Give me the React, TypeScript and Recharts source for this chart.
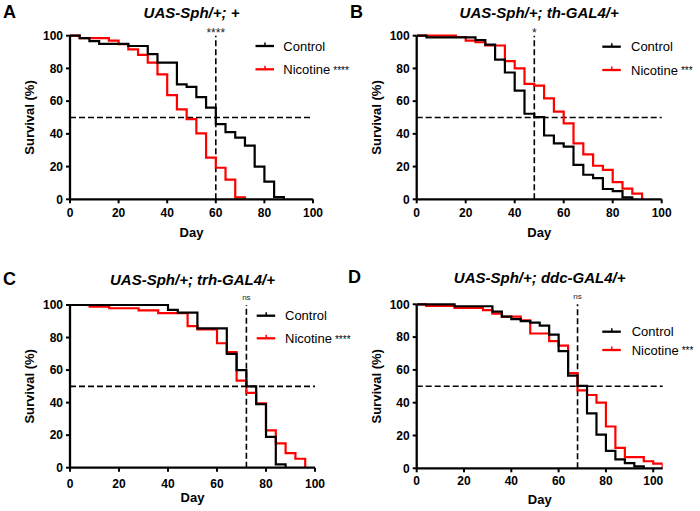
import React from 'react';
import { LineChart, Line, XAxis, YAxis, ReferenceLine } from 'recharts';

const FONT = '"Liberation Sans", Arial, Helvetica, sans-serif';

const dayTicks = [0, 20, 40, 60, 80, 100];
const survivalTicks = [0, 20, 40, 60, 80, 100];
const seriesNames = ['Control', 'Nicotine'];

// Panel A: UAS-Sph/+; +
const aControlDays = [0, 4, 8, 12, 24, 32, 36, 44, 48, 52, 56, 60, 64, 68, 72, 76, 80, 84, 88];
const aControlSurv = [100, 98.5, 96.7, 95, 93.7, 88.7, 83.6, 70.2, 68.7, 62.4, 56, 46, 41, 37.7, 32.8, 20, 10.8, 1.4, 0];
const aNicotineDays = [0, 4, 16, 20, 24, 28, 32, 36, 40, 44, 48, 52, 56, 60, 64, 68, 72];
const aNicotineSurv = [100, 98.5, 97, 94.8, 91.6, 88.3, 83.6, 76.3, 63.7, 55, 49, 40.3, 25.5, 19.3, 12, 1.2, 0];

// Panel B: UAS-Sph/+; th-GAL4/+
const bControlDays = [0, 4, 24, 28, 32, 36, 40, 44, 48, 52, 56, 60, 64, 68, 72, 76, 80, 84, 88];
const bControlSurv = [100, 99, 97.3, 94.6, 85.4, 77.5, 66.4, 52.3, 50.2, 39, 34.2, 32.2, 21, 15, 13, 6.3, 5, 1.2, 0];
const bNicotineDays = [0, 16, 20, 24, 28, 36, 40, 44, 48, 52, 56, 60, 64, 68, 72, 76, 80, 84, 88, 92];
const bNicotineSurv = [100, 99.2, 97, 96, 94, 84.5, 80, 70.6, 69.5, 61.7, 53.6, 46.4, 34.2, 27.5, 20.5, 18, 10.5, 6.5, 3.5, 0];

// Panel C: UAS-Sph/+; trh-GAL4/+
const cControlDays = [0, 40, 44, 52, 64, 68, 72, 76, 80, 84, 88];
const cControlSurv = [100, 97, 95.3, 85.6, 70, 60, 50, 39, 19, 2, 0];
const cNicotineDays = [0, 8, 16, 28, 36, 48, 52, 60, 64, 68, 72, 76, 80, 84, 88, 92, 96];
const cNicotineSurv = [100, 99, 98, 96.7, 95, 87, 85, 76.5, 71, 53.5, 46, 39.5, 23, 15, 9, 5.5, 0];

// Panel D: UAS-Sph/+; ddc-GAL4/+
const dControlDays = [0, 16, 32, 36, 40, 44, 48, 52, 56, 60, 64, 68, 72, 76, 80, 84, 88, 92, 96];
const dControlSurv = [100, 98.8, 95.5, 92.5, 91, 89.8, 88.8, 87, 81.5, 71.5, 56.5, 50.2, 33.5, 20.5, 10.6, 5.5, 3.2, 1.2, 0];
const dNicotineDays = [0, 4, 16, 28, 32, 36, 44, 48, 56, 60, 64, 68, 72, 76, 80, 84, 88, 96, 100, 104];
const dNicotineSurv = [100, 99, 97.8, 96.5, 94.3, 92.5, 90.2, 82.2, 77.6, 74.8, 58, 47.5, 44.7, 40, 25.5, 12.4, 6.8, 4.3, 2.8, 0];

const toPoints = (days: number[], surv: number[]) => days.map((d, i) => ({ day: d, v: surv[i] }));

type PanelCfg = {
  left: number; top: number; h: number;
  x0: number; x1: number; y0: number; y1: number;
  xMax: number; title: string; letter: string; letterX: number; titleY: number;
  vline: number; vlabel: string; vlabelSize: number; vlabelOffset: number;
  legX: number; legY1: number; legY2: number; legTextX: number; stars: string;
  tickMargin: number; dayDy: number;
  control: { day: number; v: number }[]; nicotine: { day: number; v: number }[];
};

const panels: PanelCfg[] = [
  {
    left: 0, top: 0, h: 255, x0: 70, x1: 313, y0: 35.7, y1: 199.3, xMax: 100,
    title: 'UAS-Sph/+; +', letter: 'A', letterX: 3, titleY: 18.3,
    vline: 60, vlabel: '****', vlabelSize: 12, vlabelOffset: -1,
    legX: 255.5, legY1: 46, legY2: 69.3, legTextX: 283.3, stars: '****',
    tickMargin: 5, dayDy: 38,
    control: toPoints(aControlDays, aControlSurv), nicotine: toPoints(aNicotineDays, aNicotineSurv),
  },
  {
    left: 350, top: 0, h: 255, x0: 66.7, x1: 311.7, y0: 35.7, y1: 199.3, xMax: 100,
    title: 'UAS-Sph/+; th-GAL4/+', letter: 'B', letterX: 0, titleY: 18.3,
    vline: 48, vlabel: '*', vlabelSize: 12, vlabelOffset: -1,
    legX: 252.3, legY1: 46.7, legY2: 70, legTextX: 281, stars: '***',
    tickMargin: 5, dayDy: 38,
    control: toPoints(bControlDays, bControlSurv), nicotine: toPoints(bNicotineDays, bNicotineSurv),
  },
  {
    left: 0, top: 255, h: 256, x0: 70, x1: 315, y0: 50, y1: 212.7, xMax: 100,
    title: 'UAS-Sph/+; trh-GAL4/+', letter: 'C', letterX: 3, titleY: 30,
    vline: 72, vlabel: 'ns', vlabelSize: 8, vlabelOffset: 5,
    legX: 256.7, legY1: 60.7, legY2: 83.3, legTextX: 285, stars: '****',
    tickMargin: 8, dayDy: 34,
    control: toPoints(cControlDays, cControlSurv), nicotine: toPoints(cNicotineDays, cNicotineSurv),
  },
  {
    left: 350, top: 255, h: 256, x0: 66.7, x1: 312.7, y0: 49.3, y1: 213.3, xMax: 104,
    title: 'UAS-Sph/+; ddc-GAL4/+', letter: 'D', letterX: -2, titleY: 28.3,
    vline: 68, vlabel: 'ns', vlabelSize: 8, vlabelOffset: 5,
    legX: 252.3, legY1: 76.7, legY2: 95, legTextX: 281.7, stars: '***',
    tickMargin: 4.5, dayDy: 36,
    control: toPoints(dControlDays, dControlSurv), nicotine: toPoints(dNicotineDays, dNicotineSurv),
  },
];

const Y_AXIS_W = 40;
const X_AXIS_H = 30;
const tickStyle = { fontSize: 12, fontWeight: 'bold' as const, fill: '#000', fontFamily: FONT };

function Panel({ p }: { p: PanelCfg }) {
  const margin = {
    top: p.y0,
    right: 350 - p.x1,
    left: p.x0 - Y_AXIS_W,
    bottom: p.h - p.y1 - X_AXIS_H,
  };
  const yTitle = (props: any) => {
    const vb = props.viewBox || {};
    const cx = vb.x + vb.width - 40.5;
    const cy = vb.y + vb.height / 2;
    return (
      <text x={cx} y={cy} transform={`rotate(-90 ${cx} ${cy})`} textAnchor="middle" dominantBaseline="central"
        fontSize={13} fontWeight="bold" fontFamily={FONT} fill="#000">Survival (%)</text>
    );
  };
  const xTitle = (props: any) => {
    const vb = props.viewBox || {};
    return (
      <text x={vb.x + vb.width / 2} y={vb.y + p.dayDy} textAnchor="middle"
        fontSize={13} fontWeight="bold" fontFamily={FONT} fill="#000">Day</text>
    );
  };
  const legendItems = [
    { name: seriesNames[0], color: '#000', y: p.legY1, stars: '' },
    { name: seriesNames[1], color: '#ff0000', y: p.legY2, stars: p.stars },
  ];
  return (
    <div style={{ position: 'absolute', left: p.left, top: p.top, width: 350, height: p.h }}>
      <LineChart width={350} height={p.h} margin={margin}>
        <XAxis type="number" dataKey="day" domain={[0, p.xMax]} ticks={dayTicks} allowDataOverflow
          tick={tickStyle} tickSize={4} tickMargin={p.tickMargin} height={X_AXIS_H}
          axisLine={{ stroke: '#000', strokeWidth: 2.3 }} tickLine={{ stroke: '#000', strokeWidth: 2 }}
          label={{ content: xTitle }} />
        <YAxis type="number" domain={[0, 100]} ticks={survivalTicks} width={Y_AXIS_W}
          tick={tickStyle} tickSize={4} tickMargin={3}
          axisLine={{ stroke: '#000', strokeWidth: 2.3 }} tickLine={{ stroke: '#000', strokeWidth: 2 }}
          label={{ content: yTitle }} />
        <ReferenceLine y={50} stroke="#000" strokeWidth={1.6} strokeDasharray="6 3" />
        <ReferenceLine x={p.vline} stroke="#000" strokeWidth={1.6} strokeDasharray="6 3"
          label={{ value: p.vlabel, position: 'top', offset: p.vlabelOffset, fontSize: p.vlabelSize, fill: '#222', fontFamily: FONT }} />
        <Line data={p.nicotine} dataKey="v" name={seriesNames[1]} type="stepAfter" stroke="#ff0000" strokeWidth={2.2}
          dot={false} activeDot={false} isAnimationActive={false} />
        <Line data={p.control} dataKey="v" name={seriesNames[0]} type="stepAfter" stroke="#000" strokeWidth={2.2}
          dot={false} activeDot={false} isAnimationActive={false} />
      </LineChart>
      <svg width={350} height={p.h} style={{ position: 'absolute', left: 0, top: 0, overflow: 'visible', pointerEvents: 'none' }}>
        <text x={p.letterX} y={p.titleY} fontSize={18} fontWeight="bold" fontFamily={FONT} fill="#000">{p.letter}</text>
        <text x={(p.x0 + p.x1) / 2} y={p.titleY} textAnchor="middle" fontSize={15} fontWeight="bold" fontStyle="italic"
          fontFamily={FONT} fill="#000">{p.title}</text>
        {legendItems.map((it) => (
          <g key={it.name}>
            <line x1={p.legX} x2={p.legX + 18.5} y1={it.y} y2={it.y} stroke={it.color} strokeWidth={2.3} />
            <line x1={p.legX + 9.5} x2={p.legX + 9.5} y1={it.y} y2={it.y - 3.5} stroke={it.color} strokeWidth={1.5} />
            <text x={p.legTextX} y={it.y + 4.7} fontSize={13} fontFamily={FONT} fill="#000">
              {it.name}
              {it.stars ? <tspan fontSize={10} dx={3} dy={-0.5}>{it.stars}</tspan> : null}
            </text>
          </g>
        ))}
      </svg>
    </div>
  );
}

export default function App() {
  return (
    <div style={{ position: 'absolute', left: 0, top: 0, width: 700, height: 511, background: '#fff', overflow: 'hidden' }}>
      {panels.map((p) => (
        <Panel key={p.letter} p={p} />
      ))}
    </div>
  );
}
